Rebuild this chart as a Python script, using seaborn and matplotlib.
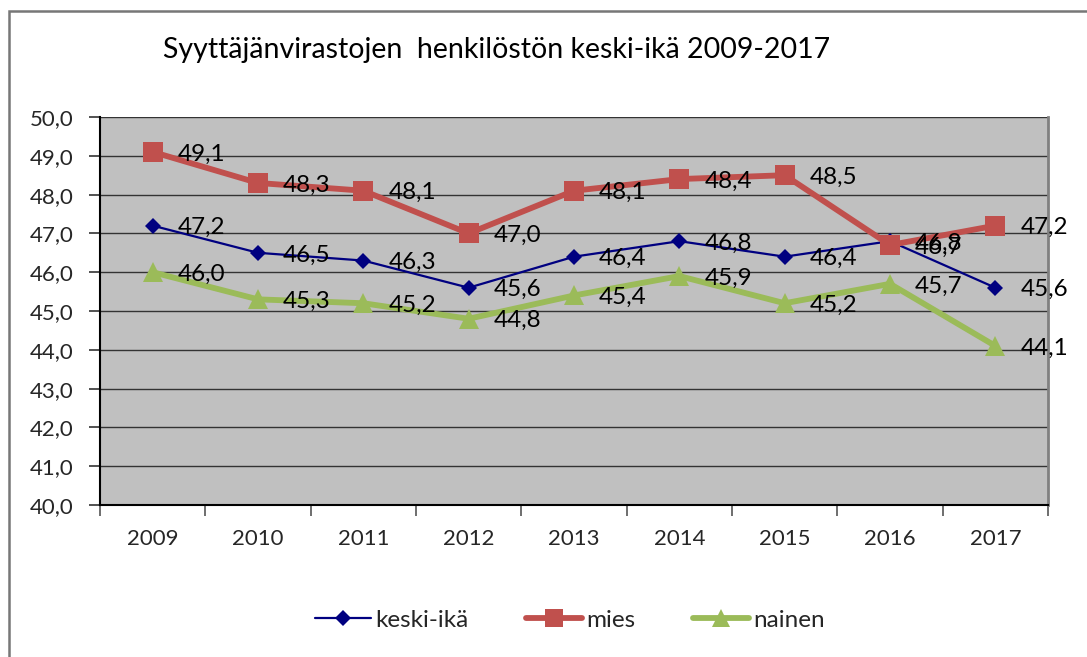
import matplotlib
matplotlib.use("Agg")
import matplotlib.pyplot as plt
import seaborn as sns
import pandas as pd
from matplotlib.patches import Rectangle
from matplotlib.lines import Line2D

years = ["2009", "2010", "2011", "2012", "2013", "2014", "2015", "2016", "2017"]
keski_ika = [47.2, 46.5, 46.3, 45.6, 46.4, 46.8, 46.4, 46.8, 45.6]
mies = [49.1, 48.3, 48.1, 47.0, 48.1, 48.4, 48.5, 46.7, 47.2]
nainen = [46.0, 45.3, 45.2, 44.8, 45.4, 45.9, 45.2, 45.7, 44.1]
series_names = ["keski-ikä", "mies", "nainen"]
title = "Syyttäjänvirastojen  henkilöstön keski-ikä 2009-2017"

sns.set_theme(style="white")
plt.rcParams["font.family"] = ["Lato", "DejaVu Sans"]

W, H = 1087, 657
fig = plt.figure(figsize=(W / 100, H / 100), dpi=100)
ax = fig.add_axes([100 / W, 1 - 505 / H, 948 / W, 388 / H])
ax.set_facecolor("#C0C0C0")

rows = []
for name, vals in zip(series_names, [keski_ika, mies, nainen]):
    for i, v in enumerate(vals):
        rows.append({"x": i, "y": v, "serie": name})
df = pd.DataFrame(rows)

styles = {
    "keski-ikä": dict(color="#000080", lw=1.6, marker="D", ms=8),
    "mies": dict(color="#C0504D", lw=4.2, marker="s", ms=14),
    "nainen": dict(color="#9BBB59", lw=4.2, marker="^", ms=15),
}

for name in series_names:
    st = styles[name]
    sub = df[df["serie"] == name]
    sns.lineplot(data=sub, x="x", y="y", ax=ax, color=st["color"], linewidth=st["lw"],
                 marker=st["marker"], markersize=st["ms"], markeredgewidth=0,
                 markeredgecolor=st["color"], legend=False, zorder=3)

for name in series_names:
    sub = df[df["serie"] == name]
    for x, y in zip(sub["x"], sub["y"]):
        ax.annotate(f"{y:.1f}".replace(".", ","), (x, y), xytext=(18, -1.5),
                    textcoords="offset points", ha="left", va="center",
                    fontsize=17.5, color="black", zorder=5)

ax.set_xlim(-0.5, 8.5)
ax.set_ylim(40, 50)
ax.set_yticks([40 + i for i in range(11)])
ax.set_yticklabels([f"{40 + i},0" for i in range(11)], fontsize=16)
ax.set_xticks(range(9))
ax.set_xticklabels(years, fontsize=16)
ax.set_xticks([i - 0.5 for i in range(10)], minor=True)
ax.tick_params(axis="x", which="major", length=0, pad=17)
ax.tick_params(axis="x", which="minor", length=8, width=1.2, color="#555555", direction="out", bottom=True)
ax.tick_params(axis="y", which="major", length=8, width=1.2, color="#333333", direction="out", left=True, pad=11)
ax.set_xlabel("")
ax.set_ylabel("")
ax.yaxis.grid(True, color="#333333", linewidth=1.0)
ax.xaxis.grid(False)
ax.set_axisbelow(True)
ax.spines["top"].set_visible(False)
ax.spines["left"].set_color("black")
ax.spines["left"].set_linewidth(1.5)
ax.spines["bottom"].set_color("black")
ax.spines["bottom"].set_linewidth(1.5)
ax.spines["right"].set_color("#808080")
ax.spines["right"].set_linewidth(2)

fig.text(497 / W, 1 - 50 / H, title, ha="center", va="center", fontsize=20.5, color="black")

handles = [Line2D([], [], color=styles[n]["color"], lw=styles[n]["lw"], marker=styles[n]["marker"],
                  markersize=styles[n]["ms"] * (0.9 if n != "keski-ikä" else 1.0), markeredgewidth=0,
                  solid_capstyle="round")
           for n in series_names]
fig.legend(handles, series_names, loc="center", bbox_to_anchor=(570 / W, 1 - 620 / H), ncol=3,
           frameon=False, fontsize=17.5, handlelength=2.3, handletextpad=0.15, columnspacing=2.4)

fig.patches.append(Rectangle((8.5 / W, -0.1), 1.2, 1 - 11 / H + 0.1, transform=fig.transFigure,
                             fill=False, edgecolor="#777777", linewidth=1.8, zorder=0))

fig.savefig("out.png", dpi=100)
